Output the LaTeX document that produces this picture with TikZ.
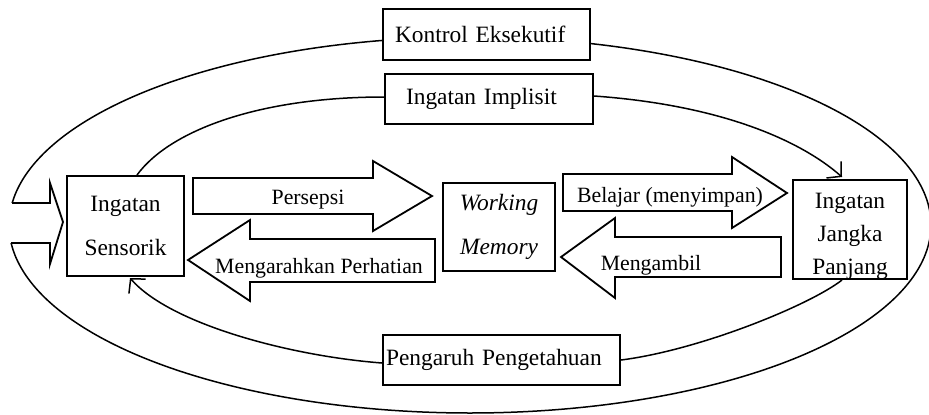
\documentclass[tikz,border=0pt]{standalone}
\usepackage{fontspec}
\setmainfont{Liberation Serif}
\usetikzlibrary{arrows.meta}
\begin{document}
\begin{tikzpicture}[x=0.5pt,y=0.5pt,
  txt/.style={font=\fontsize{11.7}{14}\selectfont, inner sep=0pt, text=black},
  atxt/.style={font=\fontsize{10.9}{13}\selectfont, inner sep=0pt, text=black},
  box/.style={draw, line width=1pt, fill=white},
  link/.style={line width=0.75pt},
  blockarrow/.style={draw, line width=0.9pt, line join=miter},
  tipped/.style={-{Straight Barb[length=5pt,width=11pt,line width=0.75pt]}}
]
\useasboundingbox (0,0) rectangle (929,414);
% outer ellipse (broken at the input arrow)
\coordinate (eA) at ({470+461*cos(173.28)},{189+188*sin(173.28)});
\coordinate (eB) at ({470+461*cos(185.49)},{189+188*sin(185.49)});
\draw[link] plot[domain=185.49:533.28, samples=240, smooth] ({470+461*cos(\x)},{189+188*sin(\x)});
% input arrow
\draw[blockarrow] (eA) -- (50,211) -- (50,231) -- (63,192) -- (50,150) -- (50,171) -- (eB);
% top / bottom boxes
\node[txt, box, minimum width=103.5pt, minimum height=25.5pt, text width=91.5pt, inner xsep=6pt, align=left] (ke) at (486.5,379.5) {Kontrol Eksekutif};
\node[txt, box, minimum width=104pt, minimum height=25pt, text width=83pt, inner xsep=10.5pt, align=left] (ii) at (489,315) {Ingatan Implisit};
\node[txt, box, minimum width=118.5pt, minimum height=25pt, text width=115.5pt, inner xsep=1.5pt, align=left] (pk) at (501.5,54) {Pengaruh Pengetahuan};
% main boxes
\node[txt, box, font=\fontsize{11.7}{22}\selectfont, align=center, minimum width=58.5pt, minimum height=50pt] (sen) at (125.5,188) {Ingatan\\Sensorik};
\node[txt, box, font=\fontsize{11.7}{22}\selectfont\itshape, align=center, minimum width=56pt, minimum height=44pt] (wm) at (499,187) {Working\\Memory};
\node[box, minimum width=57pt, minimum height=49.5pt, inner sep=0pt] (ltm) at (850,184.5) {};
\node[txt, font=\fontsize{11.7}{16.5}\selectfont, align=center] (ltmT) at (850,178) {Ingatan\\Jangka\\Panjang};
% block arrows
\draw[blockarrow] (193,236) -- (373,236) -- (373,253) -- (432,218) -- (373,183) -- (373,200) -- (193,200) -- cycle;
\draw[blockarrow] (435,175) -- (250,175) -- (250,194) -- (188,154) -- (250,113) -- (250,132) -- (435,132) -- cycle;
\draw[blockarrow] (563,240) -- (732,240) -- (732,257) -- (787,221) -- (732,186) -- (732,203) -- (563,203) -- cycle;
\draw[blockarrow] (781,177) -- (615,177) -- (615,196) -- (561,157) -- (615,116) -- (615,137) -- (781,137) -- cycle;
\node[atxt] (tPer) at (308,214) {Persepsi};
\node[atxt] (tMP) at (319,146) {Mengarahkan Perhatian};
\node[atxt] (tBel) at (670,217) {Belajar (menyimpan)};
\node[atxt] (tMeng) at (651,149) {Mengambil};
% inner loop
\draw[link] ([yshift=1pt]ii.west) .. controls (260,317) and (170,284) .. ([xshift=5.75pt]sen.north);
\draw[link, tipped] ([yshift=1.5pt]ii.east) .. controls (720,309) and (800,274) .. ([xshift=-4pt,yshift=1pt]ltm.north);
\draw[link] ([xshift=-4pt]ltm.south) .. controls (810,109) and (700,64) .. (pk.east);
\draw[link, tipped] ([yshift=-1.5pt]pk.west) .. controls (290,58) and (170,90) .. ([xshift=2.25pt,yshift=-0.5pt]sen.south);
\end{tikzpicture}
\end{document}
